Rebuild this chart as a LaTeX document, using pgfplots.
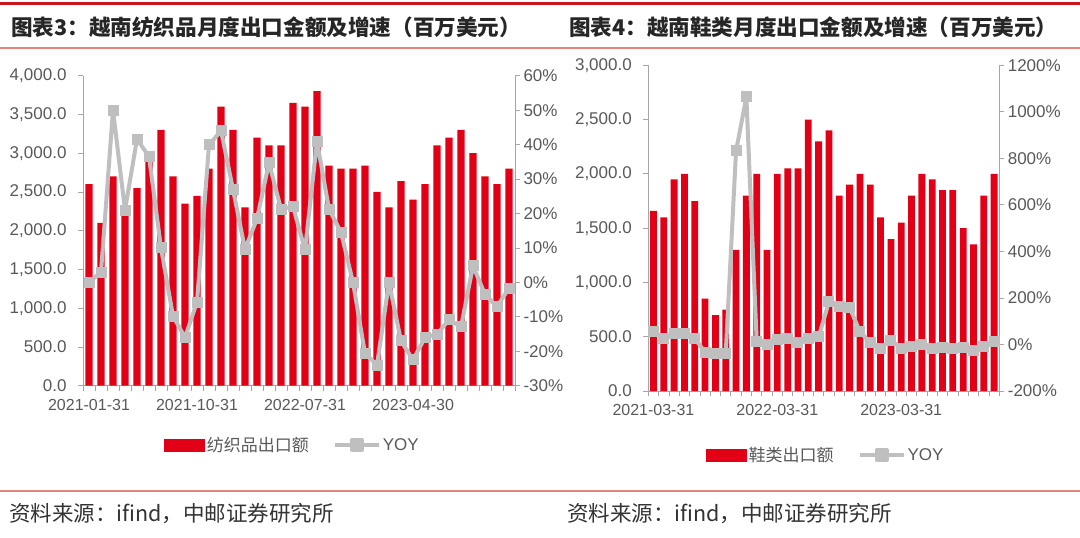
\documentclass[border=0pt]{standalone}
\usepackage{fontspec}
\setmainfont{Liberation Sans}
\newfontfamily\cjk{Noto Sans CJK SC}
\usepackage{pgfplots}
\pgfplotsset{compat=1.18}

\definecolor{barred}{RGB}{226,0,22}
\definecolor{yoygrey}{RGB}{191,191,191}
\definecolor{axisgrey}{RGB}{166,166,166}
\definecolor{ticktext}{RGB}{89,89,89}
\definecolor{topred}{RGB}{200,20,30}
\definecolor{lightred}{RGB}{228,130,130}

\pgfplotsset{
  base/.style={
    scale only axis, anchor=south west,
    axis line style={axisgrey, line width=0.8pt},
    tick style={axisgrey, line width=0.8pt},
    tick align=outside, major tick length=5pt, minor tick length=5pt,
    ticklabel style={font=\fontsize{16}{18}\selectfont, text=ticktext},
    yticklabel style={font=\fontsize{17}{19}\selectfont},
    xticklabel style={yshift=-5pt},
    clip=false,
  },
  barlegend/.style={legend image code/.code={\fill[barred] (0pt,-6pt) rectangle (40pt,6pt);}},
  yoylegend/.style={legend image code/.code={
    \draw[yoygrey, line width=4pt] (0pt,0pt) -- (44pt,0pt);
    \fill[yoygrey] (17pt,-5pt) rectangle (27pt,5pt);}},
  legstyle/.style={legend style={draw=none, fill=none, legend columns=2,
    font=\fontsize{17}{19}\selectfont, text=ticktext,
    /tikz/every even column/.append style={column sep=22pt}}},
}

\begin{document}
\begin{tikzpicture}
\fill[white] (0pt,0pt) rectangle (1080pt,-538pt);
\path[use as bounding box] (0pt,0pt) rectangle (1080pt,-538pt);

% header and footer rules
\draw[topred, line width=3pt] (0pt,-3pt) -- (1080pt,-3pt);
\draw[lightred, line width=1.5pt] (0pt,-48pt) -- (1080pt,-48pt);
\draw[lightred, line width=1.5pt] (0pt,-491pt) -- (1080pt,-491pt);

\node[anchor=west, inner sep=0pt, text=black!85] at (11pt,-27pt)
  {\cjk\bfseries\fontsize{21.6}{24}\selectfont 图表3：越南纺织品月度出口金额及增速（百万美元）};
\node[anchor=west, inner sep=0pt, text=black!85] at (569pt,-27pt)
  {\cjk\bfseries\fontsize{21.6}{24}\selectfont 图表4：越南鞋类月度出口金额及增速（百万美元）};
\node[anchor=west, inner sep=0pt, text=black!80] at (9pt,-514pt)
  {\cjk\fontsize{21.5}{24}\selectfont 资料来源：ifind，中邮证券研究所};
\node[anchor=west, inner sep=0pt, text=black!80] at (567pt,-514pt)
  {\cjk\fontsize{21.5}{24}\selectfont 资料来源：ifind，中邮证券研究所};

% ---------- left chart: textiles ----------
\begin{axis}[base,
  width=432pt, height=310pt, at={(83pt,-385.7pt)},
  xmin=-0.5, xmax=35.5, ymin=0, ymax=4000,
  axis y line*=left, axis x line*=bottom,
  yticklabel style={xshift=-8pt},
  ytick={0,500,...,4000},
  yticklabels={0.0,500.0,{1,000.0},{1,500.0},{2,000.0},{2,500.0},{3,000.0},{3,500.0},{4,000.0}},
  xtick={0,9,18,27},
  xticklabels={2021-01-31,2021-10-31,2022-07-31,2023-04-30},
  major x tick style={draw=none},
  minor xtick={-0.5,0.5,...,35.5},
]
\addplot[ybar, bar width=7.3pt, fill=barred, draw=none] coordinates {
(0,2600) (1,2100) (2,2700) (3,2250) (4,2550) (5,2900) (6,3300) (7,2700) (8,2350)
(9,2450) (10,2800) (11,3600) (12,3300) (13,2300) (14,3200) (15,3100) (16,3100) (17,3650)
(18,3600) (19,3800) (20,2840) (21,2800) (22,2800) (23,2840) (24,2500) (25,2300) (26,2640)
(27,2400) (28,2600) (29,3100) (30,3200) (31,3300) (32,3000) (33,2700) (34,2600) (35,2800)};
\end{axis}
\begin{axis}[base, legstyle,
  width=432pt, height=310pt, at={(83pt,-385.7pt)},
  xmin=-0.5, xmax=35.5, ymin=-30, ymax=60,
  axis y line*=right, axis x line=none,
  ytick={-30,-20,...,60},
  yticklabels={-30\%,-20\%,-10\%,0\%,10\%,20\%,30\%,40\%,50\%,60\%},
  legend style={at={(0.485,-0.191)}, anchor=center},
]
\addlegendimage{barlegend}
\addlegendentry{{\cjk 纺织品出口额}}
\addplot[yoylegend, color=yoygrey, line width=4pt, line join=round, mark=square*, mark size=5pt,
  mark options={fill=yoygrey, draw=yoygrey, line width=0pt}] coordinates {
(0,0) (1,3) (2,50) (3,21) (4,41.6) (5,36.5) (6,10) (7,-9.8) (8,-16)
(9,-5.7) (10,39.9) (11,44) (12,27) (13,9.6) (14,18.5) (15,34.7) (16,21.3) (17,22)
(18,9.4) (19,40.9) (20,21.3) (21,14.5) (22,0) (23,-20.6) (24,-24) (25,0) (26,-17)
(27,-22.5) (28,-16) (29,-15) (30,-10.9) (31,-12.9) (32,4.8) (33,-3.5) (34,-7) (35,-1.7)};
\addlegendentry{YOY}
\end{axis}

% ---------- right chart: footwear ----------
\begin{axis}[base,
  width=351pt, height=325.7pt, at={(648.3pt,-391pt)},
  xmin=-0.5, xmax=33.5, ymin=0, ymax=3000,
  axis y line*=left, axis x line*=bottom,
  yticklabel style={xshift=-8pt},
  ytick={0,500,...,3000},
  yticklabels={0.0,500.0,{1,000.0},{1,500.0},{2,000.0},{2,500.0},{3,000.0}},
  xtick={0,12,24},
  xticklabels={2021-03-31,2022-03-31,2023-03-31},
  major x tick style={draw=none},
  minor xtick={-0.5,0.5,...,33.5},
]
\addplot[ybar, bar width=6.8pt, fill=barred, draw=none] coordinates {
(0,1660) (1,1600) (2,1950) (3,2000) (4,1750) (5,850) (6,700) (7,750) (8,1300)
(9,1800) (10,2000) (11,1300) (12,2000) (13,2050) (14,2050) (15,2500) (16,2300) (17,2400)
(18,1800) (19,1900) (20,2000) (21,1900) (22,1600) (23,1400) (24,1550) (25,1800) (26,2000)
(27,1950) (28,1850) (29,1850) (30,1500) (31,1350) (32,1800) (33,2000)};
\end{axis}
\begin{axis}[base, legstyle,
  width=351pt, height=325.7pt, at={(648.3pt,-391pt)},
  xmin=-0.5, xmax=33.5, ymin=-200, ymax=1200,
  axis y line*=right, axis x line=none,
  ytick={-200,0,...,1200},
  yticklabels={-200\%,0\%,200\%,400\%,600\%,800\%,1000\%,1200\%},
  legend style={at={(0.506,-0.1965)}, anchor=center},
]
\addlegendimage{barlegend}
\addlegendentry{{\cjk 鞋类出口额}}
\addplot[yoylegend, color=yoygrey, line width=4pt, line join=round, mark=square*, mark size=5pt,
  mark options={fill=yoygrey, draw=yoygrey, line width=0pt}] coordinates {
(0,54) (1,26) (2,47) (3,47) (4,26) (5,-34) (6,-39) (7,-39) (8,832)
(9,1064) (10,12) (11,-2) (12,21) (13,25) (14,7) (15,26) (16,33) (17,183)
(18,162) (19,159) (20,55) (21,7) (22,-16) (23,19) (24,-16) (25,-9) (26,0)
(27,-16) (28,-13) (29,-16) (30,-13) (31,-24) (32,-7) (33,12)};
\addlegendentry{YOY}
\end{axis}
\end{tikzpicture}
\end{document}
